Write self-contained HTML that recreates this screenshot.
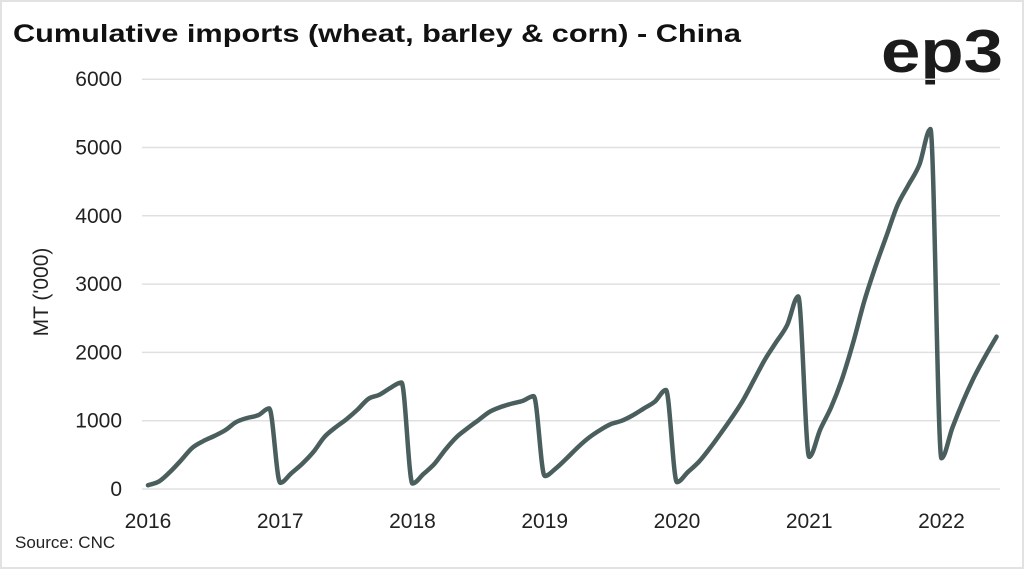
<!DOCTYPE html>
<html><head><meta charset="utf-8"><style>
html,body{margin:0;padding:0;background:#fff}
body{width:1024px;height:569px;overflow:hidden;position:relative;font-family:"Liberation Sans",sans-serif}
.frame{position:absolute;left:0;top:0;width:1020px;height:565px;border:2px solid #e2e2e2}
</style></head><body>
<div class="frame"></div>
<svg id="chart" width="1024" height="569" style="position:absolute;left:0;top:0">
  <text x="13" y="42" font-size="25" font-weight="bold" fill="#111" textLength="728" lengthAdjust="spacingAndGlyphs">Cumulative imports (wheat, barley &amp; corn) - China</text>
  <text x="881" y="72" font-size="60" font-weight="bold" fill="#1b1b1b" textLength="122" lengthAdjust="spacingAndGlyphs">ep3</text>
  <text x="48" y="292" font-size="21" fill="#222" transform="rotate(-90 48 292)" text-anchor="middle">MT ('000)</text>
  <text x="15" y="548" font-size="17" fill="#222">Source: CNC</text>
  <g id="grid"></g><g id="xt"></g><path id="line" fill="none" stroke="#4a5f5d" stroke-width="4.5" stroke-linejoin="round" stroke-linecap="round"></path>
</svg>
<script>
const yTicks=[0,1000,2000,3000,4000,5000,6000];
const years=["2016","2017","2018","2019","2020","2021","2022"];
const values=[55,110,250,420,600,700,775,860,980,1040,1080,1180,
90,230,370,540,760,900,1020,1160,1320,1380,1480,1560,
80,220,370,580,760,890,1010,1130,1200,1250,1290,1360,
190,300,450,610,750,860,950,1000,1080,1180,1280,1450,
100,250,400,600,820,1050,1300,1600,1900,2150,2400,2820,
470,870,1200,1620,2150,2750,3250,3700,4150,4450,4750,5270,
450,900,1300,1650,1950,2230];
const NS="http://www.w3.org/2000/svg";
const x0=148,dx=11.02,y0=489,yk=0.0683;
const X=i=>x0+i*dx, Y=v=>y0-v*yk;
const grid=document.getElementById('grid');
yTicks.forEach(t=>{
 const l=document.createElementNS(NS,'line');
 l.setAttribute('x1',142);l.setAttribute('x2',1000);l.setAttribute('y1',Y(t));l.setAttribute('y2',Y(t));
 l.setAttribute('stroke','#e0e0e0');l.setAttribute('stroke-width','1.5');
 
 
 grid.appendChild(l);
 const tx=document.createElementNS(NS,'text');
 tx.setAttribute('x',122);tx.setAttribute('y',Y(t)+7);tx.setAttribute('text-anchor','end');
 tx.setAttribute('font-size','21');tx.setAttribute('fill','#222');tx.textContent=t;
 
 
 grid.appendChild(tx);
});
const xt=document.getElementById('xt');
years.forEach((yv,k)=>{
 const tx=document.createElementNS(NS,'text');
 tx.setAttribute('x',X(k*12));tx.setAttribute('y',528);tx.setAttribute('text-anchor','middle');
 tx.setAttribute('font-size','21');tx.setAttribute('fill','#222');tx.textContent=yv;
 
 
 xt.appendChild(tx);
});
const pts=values.map((v,i)=>[X(i),Y(v)]);
const n=pts.length, s=[], m=[];
for(let i=0;i<n-1;i++) s.push((pts[i+1][1]-pts[i][1])/(pts[i+1][0]-pts[i][0]));
m[0]=s[0]; m[n-1]=s[n-2];
for(let i=1;i<n-1;i++){ m[i]=(s[i-1]*s[i]<=0)?0:(s[i-1]+s[i])/2; }
for(let i=0;i<n-1;i++){
 if(s[i]===0){m[i]=0;m[i+1]=0;continue;}
 const a=m[i]/s[i], b=m[i+1]/s[i], h=a*a+b*b;
 if(h>9){const t=3/Math.sqrt(h); m[i]=t*a*s[i]; m[i+1]=t*b*s[i];}
}
let d='M'+pts[0][0]+','+pts[0][1];
for(let i=0;i<n-1;i++){
 const h=(pts[i+1][0]-pts[i][0])/3;
 d+=' C'+(pts[i][0]+h)+','+(pts[i][1]+m[i]*h)+' '+(pts[i+1][0]-h)+','+(pts[i+1][1]-m[i+1]*h)+' '+pts[i+1][0]+','+pts[i+1][1];
}
document.getElementById('line').setAttribute('d',d);
</script>
</body></html>
